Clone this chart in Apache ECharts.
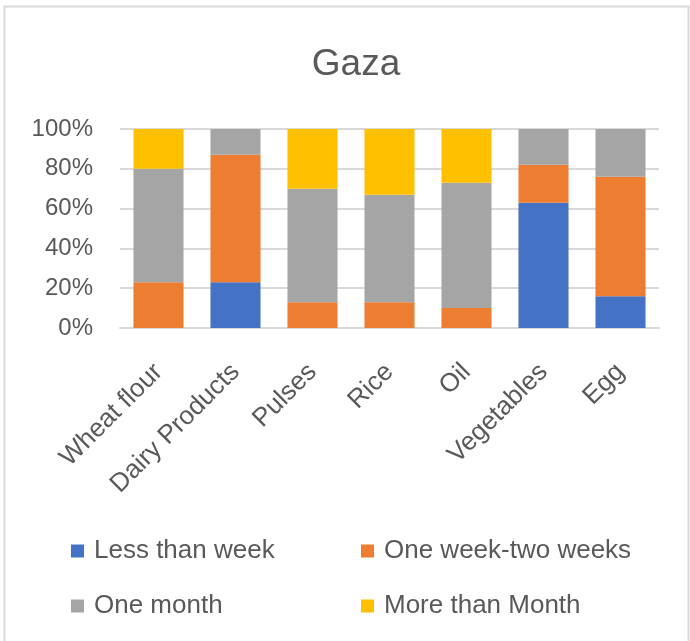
<!DOCTYPE html>
<html><head><meta charset="utf-8">
<script src="https://cdn.jsdelivr.net/npm/echarts@6/dist/echarts.min.js"></script>
<style>html,body{margin:0;padding:0;background:#fff}#c{width:690px;height:641px}</style>
</head><body><div id="c"></div>
<script>
const categories = ['Wheat flour','Dairy Products','Pulses','Rice','Oil','Vegetables','Egg'];
const lessThanWeek = [0, 23, 0, 0, 0, 63, 16];
const oneToTwoWeeks = [23, 64, 13, 13, 10, 19, 60];
const oneMonth = [57, 13, 57, 54, 63, 18, 24];
const moreThanMonth = [20, 0, 30, 33, 27, 0, 0];
const seriesNames = ['Less than week','One week-two weeks','One month','More than Month'];
const colors = ['#4472C4','#ED7D31','#A5A5A5','#FFC000'];
const yTicks = [0, 20, 40, 60, 80, 100];

const font = 'Liberation Sans, Arial, sans-serif';
const chart = echarts.init(document.getElementById('c'));
const dataSets = [lessThanWeek, oneToTwoWeeks, oneMonth, moreThanMonth];
const legendPos = [[71,538],[361,538],[71,593],[361,593]];
chart.setOption({
  animation: false,
  title: {text: 'Gaza', left: 351, textAlign: 'center', top: 41, textStyle: {fontFamily: font, fontSize: 37, fontWeight: 'normal', color: '#595959'}},
  graphic: [{type:'rect', shape:{x:4.5,y:6.5,width:684,height:640}, style:{fill:'none', stroke:'#d9d9d9', lineWidth:2}}],
  legend: seriesNames.map((n,i)=>({data:[n], left: legendPos[i][0], top: legendPos[i][1], padding:0, itemWidth:13, itemHeight:13, icon:'rect', itemGap:6,
    textStyle:{fontFamily: font, fontSize:26, color:'#595959', padding:[0,0,0,5]}})),
  grid: {left: 120, right: 31, top: 129, bottom: 313},
  xAxis: {type:'category', data: categories,
    axisLine:{lineStyle:{color:'#d9d9d9', width:2}}, axisTick:{show:false},
    axisLabel:{rotate:45, fontFamily: font, fontSize:26, color:'#595959', interval:0, margin:40}},
  yAxis: {type:'value', min:0, max:100, interval:20,
    axisLabel:{formatter: v => yTicks.includes(v) ? v + '%' : '', fontFamily: font, fontSize:24, color:'#595959', margin:27},
    splitLine:{lineStyle:{color:'#d9d9d9', width:2}}, axisLine:{show:false}, axisTick:{show:false}},
  series: dataSets.map((d,i)=>({name: seriesNames[i], type:'bar', stack:'s', data:d, barWidth:'65%', itemStyle:{color:colors[i]}}))
});
</script></body></html>
